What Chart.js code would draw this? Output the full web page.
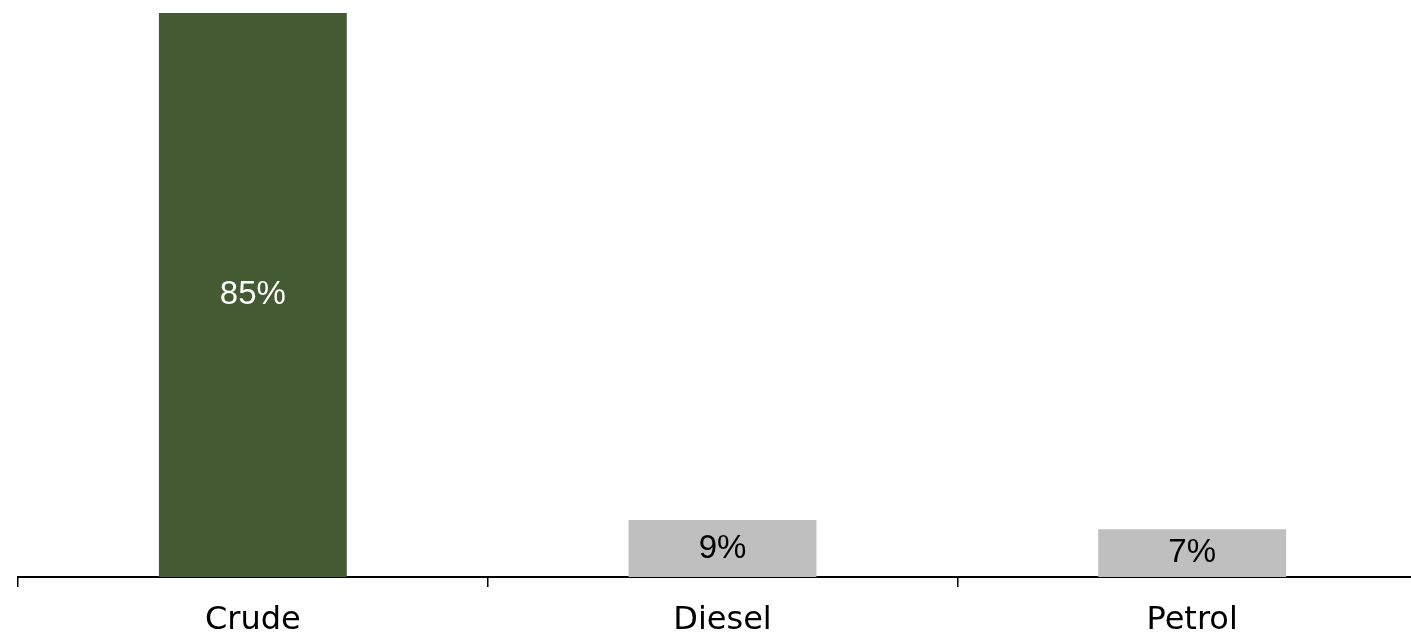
<!DOCTYPE html>
<html>
<head>
<meta charset="utf-8">
<script src="https://cdn.jsdelivr.net/npm/chart.js@4.4.1/dist/chart.umd.min.js"></script>
<style>
  html, body { margin: 0; padding: 0; background: #fff; overflow: hidden; }
  #wrap { width: 1440px; height: 632px; }
</style>
</head>
<body>
<div id="wrap"><canvas id="barChart"></canvas></div>
<script>
// values (bar heights), labels are rounded
var categories = ['Crude', 'Diesel', 'Petrol'];
var shares = [85, 8.6, 7.2];
var barColors = ['#445A33', '#BFBFBF', '#BFBFBF'];
var labelColors = ['#ffffff', '#000000', '#000000'];

// writes the percentage in the middle of each bar
var barLabels = {
    id: 'barLabels',
    afterDatasetsDraw: function (chart) {
        var ctx = chart.ctx;
        var meta = chart.getDatasetMeta(0);
        ctx.save();
        ctx.font = '33px "Liberation Sans", Arial, sans-serif';
        ctx.textAlign = 'center';
        ctx.textBaseline = 'middle';
        meta.data.forEach(function (bar, i) {
            ctx.fillStyle = labelColors[i];
            ctx.fillText(Math.round(shares[i]) + '%', bar.x, (bar.y + bar.base) / 2);
        });
        ctx.restore();
    }
};

var ctx = document.getElementById('barChart').getContext('2d');
new Chart(ctx, {
    type: 'bar',
    data: {
        labels: categories,
        datasets: [{
            data: shares,
            backgroundColor: barColors,
            borderWidth: 0,
            categoryPercentage: 1,
            barPercentage: 0.4
        }]
    },
    options: {
        responsive: true,
        maintainAspectRatio: false,
        animation: false,
        layout: { padding: { top: 13, left: 18, right: 13, bottom: 0 } },
        plugins: {
            legend: { display: false },
            tooltip: { enabled: false }
        },
        scales: {
            x: {
                offset: true,
                border: { display: true, color: '#000', width: 2 },
                grid: {
                    offset: true,
                    drawOnChartArea: false,
                    drawTicks: true,
                    tickLength: 10,
                    color: '#000',
                    lineWidth: 1.5
                },
                ticks: {
                    color: '#000',
                    padding: 14,
                    font: { family: '"DejaVu Sans", sans-serif', size: 32 }
                },
                afterFit: function (scale) { scale.height = 55; }
            },
            y: {
                display: false,
                min: 0,
                max: 85
            }
        }
    },
    plugins: [barLabels]
});
</script>
</body>
</html>
